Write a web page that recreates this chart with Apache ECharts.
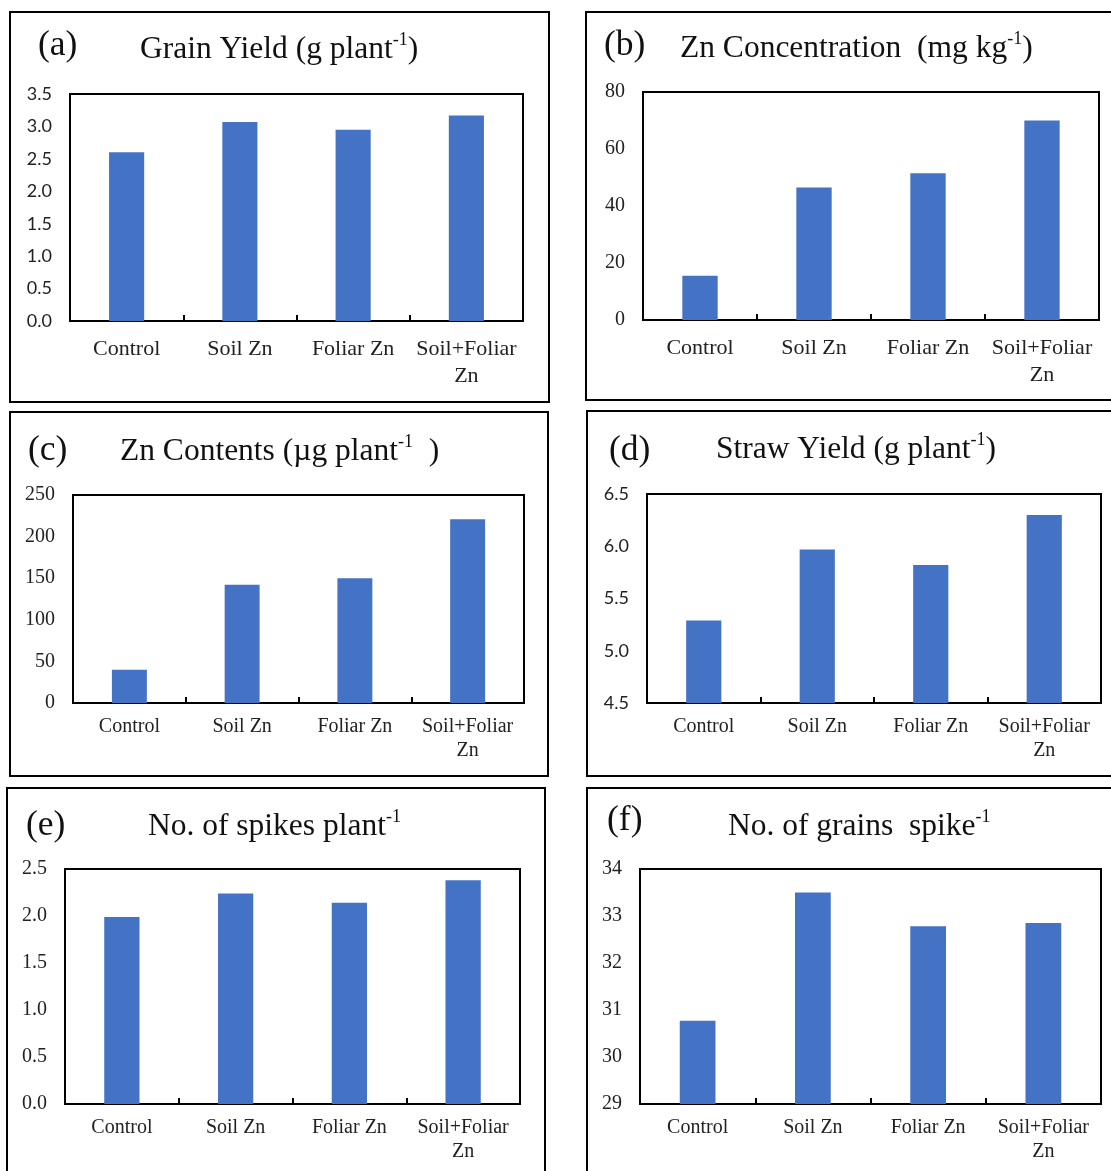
<!DOCTYPE html>
<html>
<head>
<meta charset="utf-8">
<script src="https://cdn.jsdelivr.net/npm/echarts@6/dist/echarts.min.js"></script>
<style>
html,body{margin:0;padding:0;background:#fff;}
#c{width:1111px;height:1171px;}
</style>
</head>
<body>
<div id="c"></div>
<script>
// ---- data ----
const categories = ['Control', 'Soil Zn', 'Foliar Zn', 'Soil+Foliar\nZn'];
const grainYield = [2.60, 3.07, 2.95, 3.17];
const znConcentration = [15.5, 46.5, 51.5, 70.0];
const znContents = [40, 142, 150, 221];
const strawYield = [5.29, 5.97, 5.82, 6.30];
const spikesPerPlant = [1.99, 2.24, 2.14, 2.38];
const grainsPerSpike = [30.77, 33.50, 32.78, 32.85];

const ticksA = [0, 0.5, 1.0, 1.5, 2.0, 2.5, 3.0, 3.5];
const ticksB = [0, 20, 40, 60, 80];
const ticksC = [0, 50, 100, 150, 200, 250];
const ticksD = [4.5, 5.0, 5.5, 6.0, 6.5];
const ticksE = [0, 0.5, 1.0, 1.5, 2.0, 2.5];
const ticksF = [29, 30, 31, 32, 33, 34];

const panelLetters = ['(a)', '(b)', '(c)', '(d)', '(e)', '(f)'];
const panelTitles = [
  ['Grain Yield (g plant', '-1', ')'],
  ['Zn Concentration  (mg kg', '-1', ')'],
  ['Zn Contents (\u00b5g plant', '-1', '  )'],
  ['Straw Yield (g plant', '-1', ')'],
  ['No. of spikes plant', '-1', ''],
  ['No. of grains  spike', '-1', '']
];

// ---- styling / layout ----
const SERIF = '"Liberation Serif","Times New Roman",serif';
const SANS = 'Lato,"Liberation Sans",sans-serif';
const BAR = '#4472C4';

const grids = [
  {left: 70, top: 94, width: 453, height: 227},
  {left: 643, top: 92, width: 456, height: 228},
  {left: 73, top: 495, width: 451, height: 208},
  {left: 647, top: 494, width: 454, height: 209},
  {left: 65, top: 869, width: 455, height: 235},
  {left: 640, top: 869, width: 461, height: 235}
];
const frames = [
  [10, 12, 539, 390],
  [586, 12, 540, 388],
  [10, 412, 538, 364],
  [587, 411, 540, 365],
  [7, 788, 538, 400],
  [587, 788, 540, 400]
];
const letterPos = [[38, 46], [604, 46], [28, 451], [609, 451], [26, 826], [607, 821]];
const titlePos = [[140, 50], [680, 49], [120, 452], [716, 450], [148, 827], [728, 827]];

const seriesData = [grainYield, znConcentration, znContents, strawYield, spikesPerPlant, grainsPerSpike];
const ticks = [ticksA, ticksB, ticksC, ticksD, ticksE, ticksF];
const yFonts = [SANS, SERIF, SERIF, SANS, SERIF, SERIF];
const yDecimals = [1, 0, 0, 1, 1, 0];
const topRow = [true, true, false, false, false, false];

const option = {
  backgroundColor: '#ffffff',
  animation: false,
  grid: grids.map(g => Object.assign({show: true, borderColor: '#000', borderWidth: 2, containLabel: false}, g)),
  xAxis: grids.map((g, i) => ({
    type: 'category',
    gridIndex: i,
    data: categories,
    boundaryGap: true,
    axisLine: {show: true, lineStyle: {color: '#000', width: 2}},
    axisTick: {show: true, inside: true, length: 6, interval: 0, lineStyle: {color: '#000', width: 2}},
    axisLabel: {
      interval: 0,
      color: '#222',
      fontFamily: SERIF,
      fontSize: topRow[i] ? 22 : 20,
      lineHeight: topRow[i] ? 27 : 24,
      margin: topRow[i] ? 15 : 12
    },
    splitLine: {show: false}
  })),
  yAxis: grids.map((g, i) => {
    const t = ticks[i];
    return {
      type: 'value',
      gridIndex: i,
      min: t[0],
      max: t[t.length - 1],
      interval: t[1] - t[0],
      axisLine: {show: false},
      axisTick: {show: false},
      splitLine: {show: false},
      axisLabel: {
        color: '#222',
        fontFamily: yFonts[i],
        fontSize: yFonts[i] === SANS ? 18 : 20,
        margin: 18,
        formatter: v => v.toFixed(yDecimals[i])
      }
    };
  }),
  series: seriesData.map((d, i) => ({
    type: 'bar',
    xAxisIndex: i,
    yAxisIndex: i,
    data: d,
    barWidth: '31%',
    itemStyle: {color: BAR},
    silent: true
  })),
  graphic: [].concat(
    frames.map(f => ({
      type: 'rect',
      shape: {x: f[0], y: f[1], width: f[2], height: f[3]},
      style: {fill: 'none', stroke: '#000', lineWidth: 2},
      z: 10
    })),
    panelLetters.map((L, i) => ({
      type: 'text',
      x: letterPos[i][0],
      y: letterPos[i][1],
      style: {text: L, font: '35.5px ' + SERIF, fill: '#111', verticalAlign: 'middle', align: 'left'},
      z: 10
    })),
    panelTitles.map((p, i) => ({
      type: 'text',
      x: titlePos[i][0],
      y: titlePos[i][1],
      style: {
        text: '{m|' + p[0] + '}{s|' + p[1] + '}' + (p[2] ? '{m|' + p[2] + '}' : ''),
        verticalAlign: 'middle',
        align: 'left',
        rich: {
          m: {fontFamily: SERIF, fontSize: 31.5, lineHeight: 38, fill: '#111', verticalAlign: 'middle'},
          s: {fontFamily: SERIF, fontSize: 18, lineHeight: 28, fill: '#111', verticalAlign: 'top'}
        }
      },
      z: 10
    }))
  )
};

const chart = echarts.init(document.getElementById('c'), null, {renderer: 'canvas'});
chart.setOption(option);
</script>
</body>
</html>
